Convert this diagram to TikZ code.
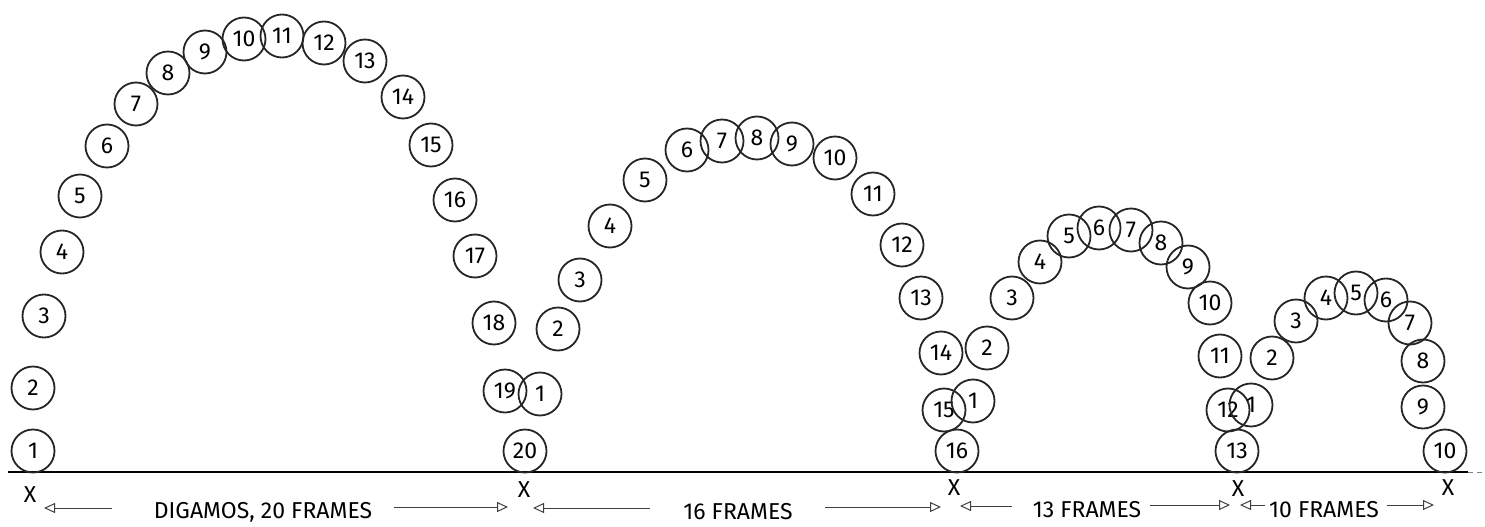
\documentclass[tikz,border=0pt]{standalone}
\usepackage{fontspec}
\setsansfont{Fira Sans}
\usetikzlibrary{arrows.meta}
\tikzset{
  ball/.style={circle,draw=black!85,line width=1.8pt,minimum size=43pt,inner sep=0pt,
    font=\sffamily\fontsize{23}{23}\selectfont},
  lbl/.style={font=\sffamily\fontsize{23}{23}\selectfont,inner sep=0pt},
  xmark/.style={font=\sffamily\fontsize{23}{23}\selectfont,inner sep=0pt},
  dim/.style={draw=black!75,line width=1pt,-{Triangle[open,length=11pt,width=10pt]}},
  ground/.style={line width=2.2pt,draw=black}
}
\begin{document}
\begin{tikzpicture}[x=1pt,y=-1pt]
\useasboundingbox (0,0) rectangle (1485,527);
% ground
\coordinate (g0) at (8,472);
\coordinate (g1) at (1468,472);
\coordinate (g2) at (1483,472);
\draw[ground] (g0) -- (g1);
\draw[line width=1pt,draw=black!50,dash pattern=on 5pt off 4pt] (g1) -- (g2);
% bounce 1
\foreach \n/\x/\y in {1/33/451,2/33/388,3/44/316,4/62/252,5/80/196,6/107/146,7/136/104,8/168/73,9/205/52,10/244/39,11/282/36,12/324/43,13/365/61,14/403/97,15/431/145,16/455/200,17/475/256,18/494/323,19/505/391,20/525/451}
  \node[ball] (a\n) at (\x,\y) {\n};
% bounce 2
\foreach \n/\x/\y in {1/540/394,2/558/329,3/580/280,4/610/226,5/645/180,6/687/150,7/722/141,8/757/138,9/792/144,10/835/158,11/873/194,12/902/245,13/921/298,14/941/353,15/944/410,16/957/451}
  \node[ball] (b\n) at (\x,\y) {\n};
% bounce 3
\foreach \n/\x/\y in {1/973/401,2/987/348,3/1012/298,4/1040/262,5/1069/236,6/1099/228,7/1131/230,8/1161/243,9/1188/267,10/1210/303,11/1220/356,12/1228/410,13/1237/451}
  \node[ball] (c\n) at (\x,\y) {\n};
% bounce 4
\foreach \n/\x/\y in {1/1251/405,2/1272/358,3/1296/321,4/1326/298,5/1356/293,6/1386/300,7/1410/323,8/1423/361,9/1423/407,10/1445/451}
  \node[ball] (d\n) at (\x,\y) {\n};
% X marks
\node[xmark] (x1) at (30,495) {X};
\node[xmark] (x2) at (524,490) {X};
\node[xmark] (x3) at (954,488) {X};
\node[xmark] (x4) at (1238,489) {X};
\node[xmark] (x5) at (1448,488) {X};
% labels
\node[lbl] (t1) at (263,512) {DIGAMOS, 20 FRAMES};
\node[lbl] (t2) at (738,512) {16 FRAMES};
\node[lbl] (t3) at (1087,510) {13 FRAMES};
\node[lbl] (t4) at (1324,510) {10 FRAMES};
% dimension arrows
\coordinate (p1a) at (112,508); \coordinate (p1b) at (44,508);
\coordinate (p1c) at (394,507); \coordinate (p1d) at (508,507);
\coordinate (p2a) at (650,508); \coordinate (p2b) at (533,508);
\coordinate (p2c) at (825,507); \coordinate (p2d) at (941,507);
\coordinate (p3a) at (1012,506); \coordinate (p3b) at (960,506);
\coordinate (p3c) at (1150,505); \coordinate (p3d) at (1230,505);
\coordinate (p4a) at (1265,505); \coordinate (p4b) at (1240,505);
\coordinate (p4c) at (1387,505); \coordinate (p4d) at (1434,505);
\draw[dim] (p1a) -- (p1b);
\draw[dim] (p1c) -- (p1d);
\draw[dim] (p2a) -- (p2b);
\draw[dim] (p2c) -- (p2d);
\draw[dim] (p3a) -- (p3b);
\draw[dim] (p3c) -- (p3d);
\draw[dim] (p4a) -- (p4b);
\draw[dim] (p4c) -- (p4d);
\end{tikzpicture}
\end{document}
